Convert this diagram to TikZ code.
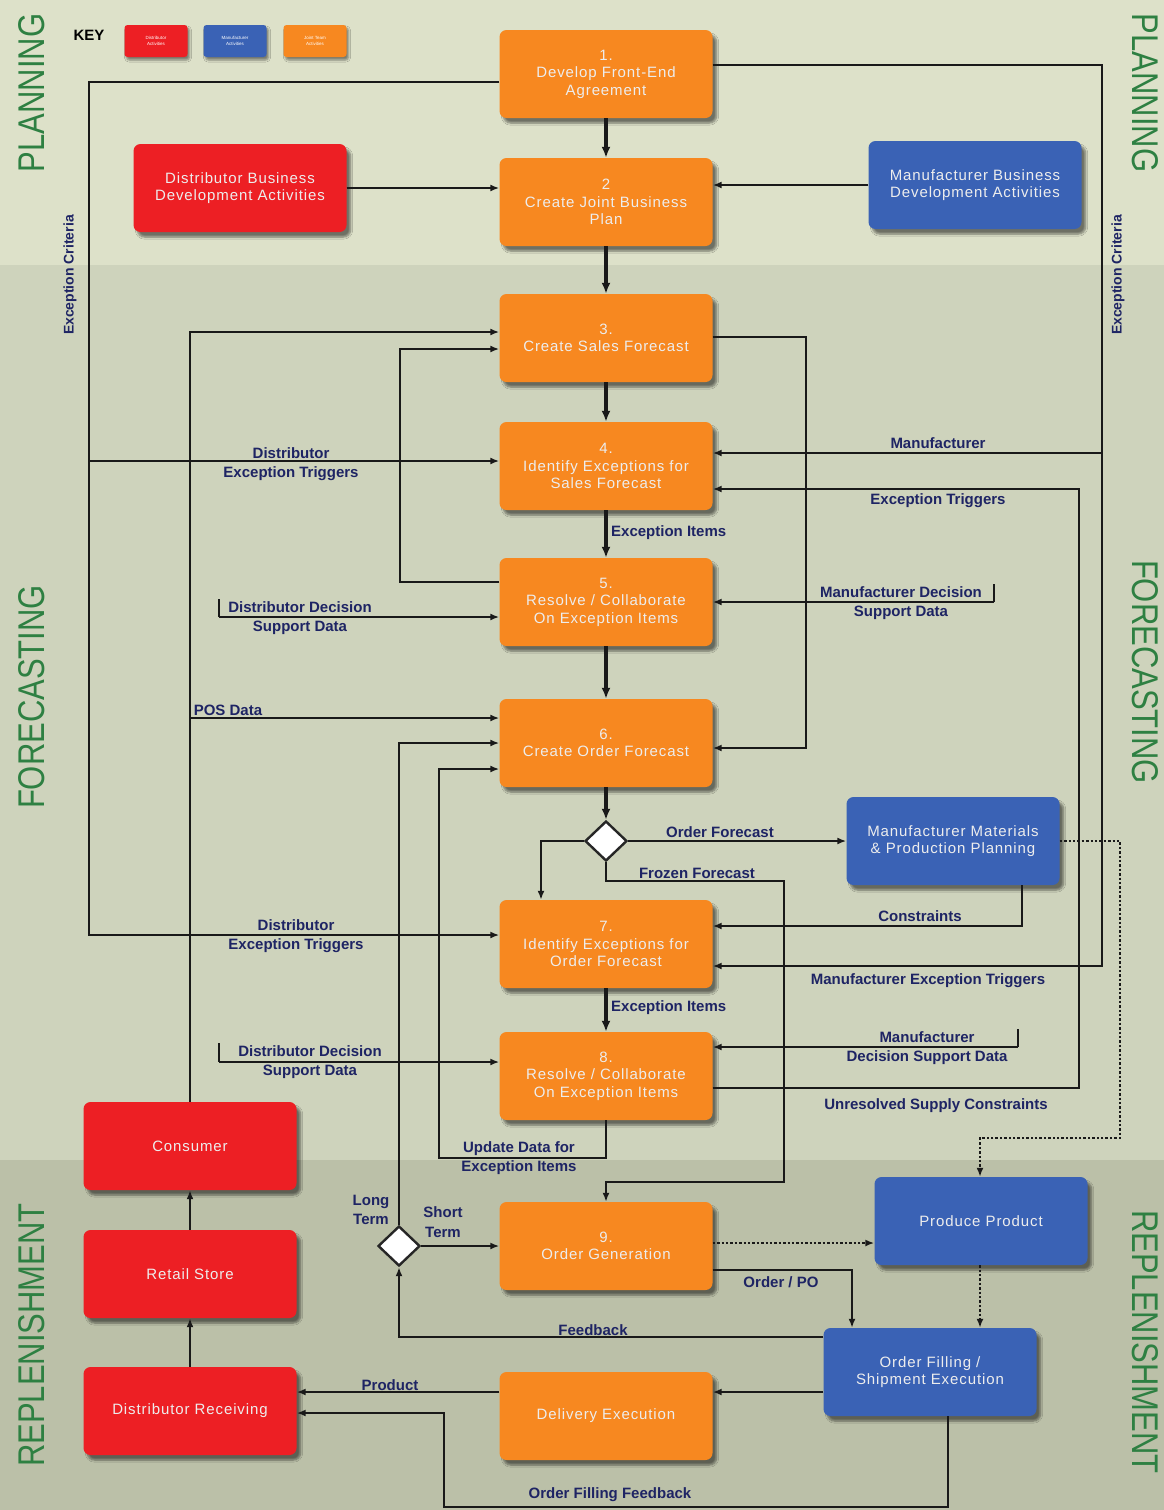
\documentclass[tikz,border=0pt]{standalone}
\usepackage{fontspec}
\setmainfont{Liberation Sans}
\newfontfamily\boxfont[LetterSpace=6]{Liberation Sans}
\usetikzlibrary{shapes.geometric,arrows.meta,shadows.blur,calc}

\definecolor{stepOrange}{RGB}{247,136,32}
\definecolor{distRed}{RGB}{237,31,36}
\definecolor{manuBlue}{RGB}{58,98,181}
\definecolor{lblNavy}{RGB}{30,36,100}
\definecolor{bandGreen}{RGB}{46,128,66}
\definecolor{planBg}{RGB}{221,225,201}
\definecolor{foreBg}{RGB}{206,211,188}
\definecolor{replBg}{RGB}{187,192,168}

\tikzset{
	box/.style={
			rectangle, rounded corners=7pt, minimum width=213pt, minimum height=88pt,
			align=center, text=white!93!black, font=\boxfont\fontsize{15}{17.5}\selectfont,
			blur shadow={shadow xshift=4pt, shadow yshift=-5pt, shadow blur steps=6, shadow opacity=50}
		},
	jointbox/.style={box, fill=stepOrange},
	distbox/.style={box, fill=distRed},
	manubox/.style={box, fill=manuBlue},
	keybox/.style={
			rectangle, rounded corners=3pt, minimum width=63pt, minimum height=32pt,
			align=center, text=white, font=\fontsize{4.5}{5.5}\selectfont,
			blur shadow={shadow xshift=2pt, shadow yshift=-3pt, shadow opacity=45}
		},
	decision/.style={diamond, draw=black!85, line width=2.4pt, fill=white,
			minimum width=42pt, minimum height=40pt, inner sep=0pt},
	arr/.style={draw=black!90, line width=2.4pt, -{Latex[length=9pt,width=7pt]}},
	mainarr/.style={arr, line width=3.2pt, -{Latex[length=11pt,width=9pt]}},
	stub/.style={draw=black!90, line width=2.4pt},
	lbl/.style={text=lblNavy, font=\bfseries\fontsize{15}{19.5}\selectfont, align=center, inner sep=1pt},
	band/.style={text=bandGreen, font=\fontsize{31}{31}\selectfont, inner sep=0pt},
	crit/.style={text=lblNavy, font=\bfseries\fontsize{14}{14}\selectfont, inner sep=0pt, rotate=90}
}

\begin{document}
\begin{tikzpicture}[x=1pt,y=-1pt]
    \useasboundingbox (0,0) rectangle (1164,1510);

    % Background bands
    \fill[planBg] (0,0) rectangle (1164,265);
    \fill[foreBg] (0,265) rectangle (1164,1160);
    \fill[replBg] (0,1160) rectangle (1164,1510);

    % Band titles
    \node[band, rotate=90] (planL) at (32,93) {\scalebox{1}[1.2]{PLANNING}};
    \node[band, rotate=90] (foreL) at (32,697) {\scalebox{1}[1.2]{FORECASTING}};
    \node[band, rotate=90] (replL) at (32,1335) {\scalebox{1}[1.2]{REPLENISHMENT}};
    \node[band, rotate=-90] (planR) at (1145,93) {\scalebox{1}[1.2]{PLANNING}};
    \node[band, rotate=-90] (foreR) at (1145,672) {\scalebox{1}[1.2]{FORECASTING}};
    \node[band, rotate=-90] (replR) at (1145,1342) {\scalebox{1}[1.2]{REPLENISHMENT}};

    % Key
    \node[font=\bfseries\fontsize{15}{15}\selectfont] (key) at (89,35) {KEY};
    \node[keybox, fill=distRed] (keyD) at (156,41) {Distributor\\Activities};
    \node[keybox, fill=manuBlue] (keyM) at (235,41) {Manufacturer\\Activities};
    \node[keybox, fill=stepOrange] (keyJ) at (315,41) {Joint Team\\Activities};

    % Joint steps
    \node[jointbox] (b1) at (606,74) {1.\\Develop Front-End\\Agreement};
    \node[jointbox] (b2) at (606,202) {2\\Create Joint Business\\Plan};
    \node[jointbox] (b3) at (606,338) {3.\\Create Sales Forecast};
    \node[jointbox] (b4) at (606,466) {4.\\Identify Exceptions for\\Sales Forecast};
    \node[jointbox] (b5) at (606,602) {5.\\Resolve / Collaborate\\On Exception Items};
    \node[jointbox] (b6) at (606,743) {6.\\Create Order Forecast};
    \node[jointbox] (b7) at (606,944) {7.\\Identify Exceptions for\\Order Forecast};
    \node[jointbox] (b8) at (606,1076) {8.\\Resolve / Collaborate\\On Exception Items};
    \node[jointbox] (b9) at (606,1246) {9.\\Order Generation};
    \node[jointbox] (del) at (606,1416) {Delivery Execution};

    % Distributor boxes
    \node[distbox] (dbd) at (240,188) {Distributor Business\\Development Activities};
    \node[distbox] (cons) at (190,1146) {Consumer};
    \node[distbox] (retail) at (190,1274) {Retail Store};
    \node[distbox] (drec) at (190,1411) {Distributor Receiving};

    % Manufacturer boxes
    \node[manubox] (mbd) at (975,185) {Manufacturer Business\\Development Activities};
    \node[manubox] (mmp) at (953,841) {Manufacturer Materials\\\& Production Planning};
    \node[manubox] (prod) at (981,1221) {Produce Product};
    \node[manubox] (ofs) at (930,1372) {Order Filling /\\Shipment Execution};

    % Decisions
    \node[decision] (dA) at (606,841) {};
    \node[decision] (dB) at (399,1246) {};

    % Main chain
    \draw[mainarr] (b1.south) -- (b2.north);
    \draw[mainarr] (b2.south) -- (b3.north);
    \draw[mainarr] (b3.south) -- (b4.north);
    \draw[mainarr] (b4.south) -- (b5.north);
    \draw[mainarr] (b5.south) -- (b6.north);
    \draw[mainarr] (b6.south) -- (dA.north);
    \draw[mainarr] (b7.south) -- (b8.north);
    \node[lbl, anchor=west] (eiA) at (610,533) {Exception Items};
    \node[lbl, anchor=west] (eiB) at (610,1008) {Exception Items};

    % Planning inputs
    \draw[arr] (dbd.east) -- (dbd.east -| b2.west);
    \draw[arr] (mbd.west) -- (mbd.west -| b2.east);

    % Exception criteria, distributor side
    \draw[arr] (b1.west |- 0,82) -- (89,82) -- (89,935) -- (b7.west |- 0,935);
    \draw[arr] (89,461) -- (b4.west |- 0,461);
    \node[crit] (critL) at (70,275) {Exception Criteria};
    \node[lbl] (detA) at (291,464) {Distributor\\Exception Triggers};
    \node[lbl] (detB) at (296,936) {Distributor\\Exception Triggers};

    % Exception criteria, manufacturer side
    \draw[arr] (b1.east |- 0,65) -- (1102,65) -- (1102,966) -- (b7.east |- 0,966);
    \draw[arr] (1102,453) -- (b4.east |- 0,453);
    \node[crit] (critR) at (1118,275) {Exception Criteria};
    \node[lbl] (manA) at (938,443) {Manufacturer};
    \node[lbl] (metB) at (928,981) {Manufacturer Exception Triggers};

    % Consumer data
    \draw[arr] (cons.north) -- (cons.north |- 0,332) -- (b3.west |- 0,332);
    \draw[arr] (cons.north |- 0,718) -- (b6.west |- 0,718);
    \node[lbl] (pos) at (228,710) {POS Data};

    % Feedback loops
    \draw[arr] (b5.west |- 0,582) -- (400,582) -- (400,349) -- (b3.west |- 0,349);
    \draw[arr] (b3.east |- 0,337) -- (806,337) -- (806,748) -- (b6.east |- 0,748);
    \draw[arr] (b8.east |- 0,1088) -- (1079,1088) -- (1079,489) -- (b4.east |- 0,489);
    \node[lbl] (etA) at (938,501) {Exception Triggers};
    \node[lbl] (usc) at (936,1106) {Unresolved Supply Constraints};

    % Decision support data
    \draw[stub] (219,599) -- (219,617);
    \draw[arr] (219,617) -- (b5.west |- 0,617);
    \node[lbl] (ddsA) at (300,618) {Distributor Decision\\Support Data};
    \draw[stub] (994,584) -- (994,602);
    \draw[arr] (994,602) -- (b5.east |- 0,602);
    \node[lbl] (mdsA) at (901,603) {Manufacturer Decision\\Support Data};
    \draw[stub] (219,1043) -- (219,1062);
    \draw[arr] (219,1062) -- (b8.west |- 0,1062);
    \node[lbl] (ddsB) at (310,1062) {Distributor Decision\\Support Data};
    \draw[stub] (1018,1029) -- (1018,1047);
    \draw[arr] (1018,1047) -- (b8.east |- 0,1047);
    \node[lbl] (mdsB) at (927,1048) {Manufacturer\\Decision Support Data};

    % Order forecast split
    \draw[arr] (dA.east) -- (dA.east -| mmp.west);
    \node[lbl] (ofc) at (720,832) {Order Forecast};
    \draw[arr] (dA.west) -| ($(b7.north)+(-65,0)$);
    \draw[arr] (dA.south) |- (784,881) -- (784,1182) -- (b9.north |- 0,1182) -- (b9.north);
    \node[lbl] (frz) at (697,873) {Frozen Forecast};
    \draw[arr] (mmp.south -| 1022,0) -- (1022,926) -- (b7.east |- 0,926);
    \node[lbl] (cst) at (920,916) {Constraints};

    % Update data
    \draw[arr] (b8.south) -- (606,1158) -- (439,1158) -- (439,769) -- (b6.west |- 0,769);
    \node[lbl] (upd) at (519,1158) {Update Data for\\Exception Items};

    % Replenishment
    \draw[arr] (dB.north) -- (399,743) -- (b6.west |- 0,743);
    \node[lbl] (lt) at (371,1210) {Long\\Term};
    \draw[arr] (dB.east) -- (b9.west);
    \node[lbl] (st) at (443,1222) {Short\\Term};
    \draw[arr] (ofs.west |- 0,1337) -- (399,1337) -- (dB.south);
    \node[lbl] (fb) at (593,1330) {Feedback};
    \draw[arr] (b9.east |- 0,1270) -- (852,1270) -- (ofs.north -| 852,0);
    \node[lbl] (po) at (781,1282) {Order / PO};
    \draw[arr, dotted] (b9.east |- 0,1243) -- (prod.west |- 0,1243);
    \draw[arr, dotted] (prod.south -| 980,0) -- (ofs.north -| 980,0);
    \draw[arr, dotted] (mmp.east) -- (1120,841) -- (1120,1138) -- (980,1138) -- (prod.north -| 980,0);
    \draw[arr] (ofs.west |- 0,1392) -- (del.east |- 0,1392);
    \draw[arr] (del.west |- 0,1392) -- (drec.east |- 0,1392);
    \node[lbl] (prd) at (390,1385) {Product};
    \draw[arr] (ofs.south -| 948,0) -- (948,1507) -- (444,1507) -- (444,1413) -- (drec.east |- 0,1413);
    \node[lbl] (off) at (610,1495) {Order Filling Feedback};
    \draw[arr] (drec.north) -- (retail.south);
    \draw[arr] (retail.north) -- (cons.south);
\end{tikzpicture}
\end{document}
